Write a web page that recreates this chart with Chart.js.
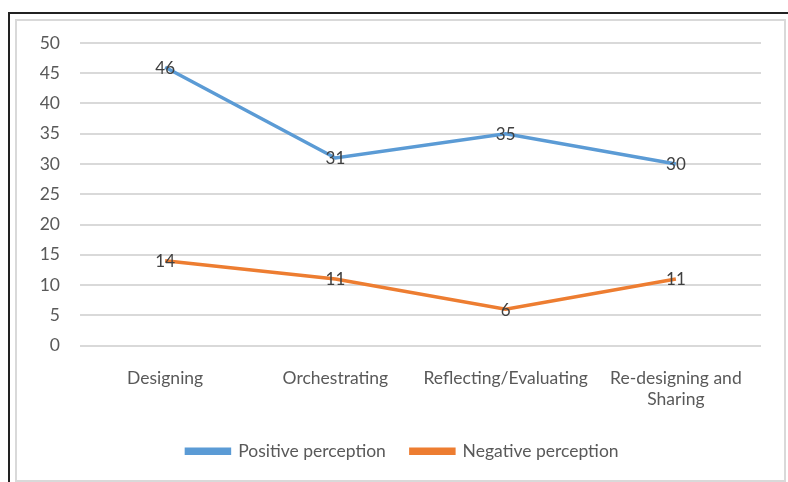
<!DOCTYPE html>
<html>
<head>
<meta charset="utf-8">
<script src="https://cdn.jsdelivr.net/npm/chart.js@4/dist/chart.umd.min.js"></script>
<style>
  body { margin: 0; background: #fff; }
  #frame { position: absolute; left: 8px; top: 12px; width: 790px; height: 480px;
           border-top: 2px solid #222; border-left: 2px solid #222; }
  #box { position: absolute; left: 15px; top: 19px; width: 767px; height: 459px;
         border: 2px solid #d9d9d9; }
  #wrap { position: absolute; left: 0; top: 0; width: 788px; height: 482px; }
</style>
</head>
<body>
<div id="frame"></div>
<div id="box"></div>
<div id="wrap"><canvas id="LineChart"></canvas></div>
<script>
// datos del gráfico
var categorias = ['Designing', 'Orchestrating', 'Reflecting/Evaluating', ['Re-designing and', 'Sharing']];
var positivos = [46, 31, 35, 30];
var negativos = [14, 11, 6, 11];
var ticksY = [0, 5, 10, 15, 20, 25, 30, 35, 40, 45, 50];

var fuente = 'Lato, "Open Sans", sans-serif';

// etiquetas de valor sobre cada punto
var etiquetasValor = {
    id: 'etiquetasValor',
    afterLayout: function(chart) {
        // leyenda un poco a la derecha, como en el original
        chart.legend.left += 12;
        chart.legend.right += 12;
    },
    afterDatasetsDraw: function(chart) {
        var ctx = chart.ctx;
        ctx.save();
        ctx.font = '17px ' + fuente;
        ctx.fillStyle = '#404040';
        ctx.textAlign = 'center';
        ctx.textBaseline = 'middle';
        chart.data.datasets.forEach(function(ds, i) {
            chart.getDatasetMeta(i).data.forEach(function(pt, j) {
                ctx.fillText(ds.data[j], pt.x, pt.y + 1);
            });
        });
        ctx.restore();
    }
};

document.addEventListener('DOMContentLoaded', function() {
    var ctx = document.getElementById('LineChart').getContext('2d');
    new Chart(ctx, {
        type: 'line',
        data: {
            labels: categorias,
            datasets: [{
                label: 'Positive perception',
                data: positivos,
                borderColor: '#5b9bd5',
                backgroundColor: '#5b9bd5',
                borderWidth: 3.5,
                pointRadius: 0,
                tension: 0
            }, {
                label: 'Negative perception',
                data: negativos,
                borderColor: '#ed7d31',
                backgroundColor: '#ed7d31',
                borderWidth: 3.5,
                pointRadius: 0,
                tension: 0
            }]
        },
        options: {
            responsive: false,
            animation: false,
            layout: { padding: { left: 20, right: 27, top: 43, bottom: 12 } },
            plugins: {
                tooltip: { enabled: false },
                legend: {
                    position: 'bottom',
                    labels: {
                        boxWidth: 43,
                        boxHeight: 4,
                        padding: 25,
                        color: '#595959',
                        font: { family: fuente, size: 17.5 }
                    }
                }
            },
            scales: {
                x: {
                    offset: true,
                    grid: { display: false },
                    border: { display: false },
                    ticks: {
                        color: '#595959',
                        padding: 14,
                        maxRotation: 0,
                        autoSkip: false,
                        font: { family: fuente, size: 17.5 }
                    },
                    afterFit: function(scale) { scale.height = 72; }
                },
                y: {
                    min: 0,
                    max: 50,
                    afterBuildTicks: function(scale) {
                        scale.ticks = ticksY.map(function(v) { return { value: v }; });
                    },
                    grid: { color: '#d9d9d9', lineWidth: 2, drawTicks: false },
                    border: { display: false },
                    ticks: {
                        color: '#595959',
                        padding: 20,
                        font: { family: fuente, size: 17.5 }
                    },
                    afterFit: function(scale) { scale.width = 60; }
                }
            }
        },
        plugins: [etiquetasValor]
    });
});
</script>
<script>
document.getElementById('LineChart').width = 788;
document.getElementById('LineChart').height = 482;
</script>
</body>
</html>
